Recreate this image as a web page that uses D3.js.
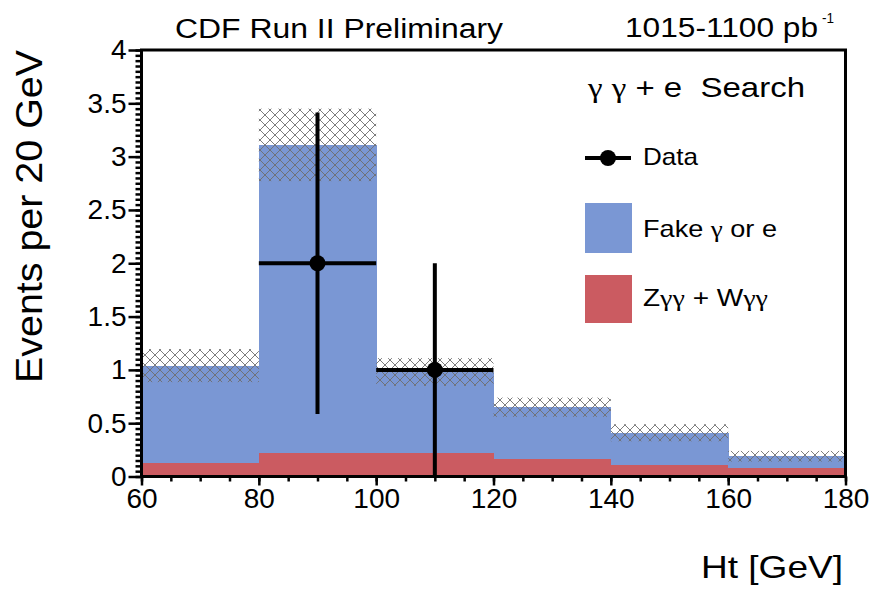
<!DOCTYPE html>
<html>
<head>
<meta charset="utf-8">
<script src="https://cdn.jsdelivr.net/npm/d3@7"></script>
<style>
  html, body { margin: 0; padding: 0; background: #fff; }
  svg { display: block; }
  text { font-family: "Liberation Sans", Arial, sans-serif; fill: #000; }
  tspan.g { font-family: "Liberation Serif", "DejaVu Serif", serif; }
</style>
</head>
<body>
<svg id="chart" width="877" height="595"></svg>
<script>
// ---------- data ----------
const binEdges = [60, 80, 100, 120, 140, 160, 180];
const zggWgg   = [0.125, 0.22, 0.22, 0.16, 0.11, 0.08];      // red component
const fakeGamE = [0.915, 2.89, 0.76, 0.49, 0.30, 0.11];      // blue component (stacked on red)
const totalErr = [0.155, 0.34, 0.13, 0.09, 0.08, 0.05];      // hatched uncertainty on total
const dataX    = [90, 110];
const dataY    = [2, 1];
const dataErrLo = [1.414, 1];
const dataErrHi = [1.414, 1];
const dataXErr = [10, 10];
const yMajorTicks = [0, 0.5, 1, 1.5, 2, 2.5, 3, 3.5, 4];
const yTickLabels = ["0", "0.5", "1", "1.5", "2", "2.5", "3", "3.5", "4"];
const xMajorTicks = [60, 80, 100, 120, 140, 160, 180];
const xTickLabels = ["60", "80", "100", "120", "140", "160", "180"];

// ---------- setup ----------
const svg = d3.select("#chart");
const blue = "#7a97d4", red = "#cb5b61";
const x = d3.scaleLinear().domain([60, 180]).range([141.5, 845.5]);
const y = d3.scaleLinear().domain([0, 4]).range([476.5, 50]);

const defs = svg.append("defs");
const pat = defs.append("pattern").attr("id", "hatch")
  .attr("patternUnits", "userSpaceOnUse").attr("width", 10).attr("height", 10);
pat.append("path").attr("d", "M-1,-1 L11,11 M11,-1 L-1,11")
  .attr("stroke", "#6e6e6e").attr("stroke-width", 0.9).attr("fill", "none");

const bins = zggWgg.map((r, i) => ({
  x0: binEdges[i], x1: binEdges[i + 1], red: r, fake: fakeGamE[i],
  total: r + fakeGamE[i], err: totalErr[i]
}));

// red
svg.append("g").attr("shape-rendering", "crispEdges").selectAll("rect").data(bins).join("rect")
  .attr("x", d => x(d.x0)).attr("width", d => x(d.x1) - x(d.x0) + 0.5)
  .attr("y", d => y(d.red)).attr("height", d => y(0) - y(d.red))
  .attr("fill", red);
// blue
svg.append("g").attr("shape-rendering", "crispEdges").selectAll("rect").data(bins).join("rect")
  .attr("x", d => x(d.x0)).attr("width", d => x(d.x1) - x(d.x0) + 0.5)
  .attr("y", d => y(d.total)).attr("height", d => y(d.red) - y(d.total))
  .attr("fill", blue);
// hatch
svg.append("g").selectAll("rect").data(bins).join("rect")
  .attr("x", d => x(d.x0)).attr("width", d => x(d.x1) - x(d.x0))
  .attr("y", d => y(d.total + d.err)).attr("height", d => y(d.total - d.err) - y(d.total + d.err))
  .attr("fill", "url(#hatch)");

// data points
const pts = dataX.map((v, i) => ({ x: v, y: dataY[i], lo: dataErrLo[i], hi: dataErrHi[i], xe: dataXErr[i] }));
const gd = svg.append("g");
gd.selectAll("line.v").data(pts).join("line").attr("class", "v")
  .attr("x1", d => x(d.x)).attr("x2", d => x(d.x))
  .attr("y1", d => y(d.y - d.lo)).attr("y2", d => y(d.y + d.hi))
  .attr("stroke", "#000").attr("stroke-width", 4);
gd.selectAll("line.h").data(pts).join("line").attr("class", "h")
  .attr("x1", d => x(d.x - d.xe)).attr("x2", d => x(d.x + d.xe))
  .attr("y1", d => y(d.y)).attr("y2", d => y(d.y))
  .attr("stroke", "#000").attr("stroke-width", 4);
gd.selectAll("circle").data(pts).join("circle")
  .attr("cx", d => x(d.x)).attr("cy", d => y(d.y)).attr("r", 8).attr("fill", "#000");

// ---------- axes ----------
const yMinor = d3.range(0, 81).map(i => i * 0.05);
const xMinor = d3.range(0, 25).map(i => 60 + i * 5);

const gyMinor = svg.append("g").attr("transform", `translate(${x(60)},0)`)
  .call(d3.axisLeft(y).tickValues(yMinor).tickSize(6).tickFormat(""));
const gy = svg.append("g").attr("transform", `translate(${x(60)},0)`)
  .call(d3.axisLeft(y).tickValues(yMajorTicks).tickSize(13).tickPadding(2)
    .tickFormat((d, i) => yTickLabels[i]));
const gxMinor = svg.append("g").attr("transform", `translate(0,${y(0)})`)
  .call(d3.axisBottom(x).tickValues(xMinor).tickSize(5).tickFormat(""));
const gx = svg.append("g").attr("transform", `translate(0,${y(0)})`)
  .call(d3.axisBottom(x).tickValues(xMajorTicks).tickSize(9).tickPadding(3)
    .tickFormat((d, i) => xTickLabels[i]));

[gyMinor, gy, gxMinor, gx].forEach(g => {
  g.select(".domain").remove();
  g.selectAll(".tick line").attr("stroke", "#000").attr("stroke-width", 2.5);
  g.selectAll(".tick text").style("font-size", "28px").attr("fill", "#000")
    .style("font-family", "'Liberation Sans', Arial, sans-serif");
});

// frame
svg.append("rect").attr("x", x(60)).attr("y", y(4))
  .attr("width", x(180) - x(60)).attr("height", y(0) - y(4))
  .attr("fill", "none").attr("stroke", "#000").attr("stroke-width", 3);

// ---------- texts ----------
svg.append("text").attr("x", 175).attr("y", 38).style("font-size", "27px")
  .attr("textLength", 328).attr("lengthAdjust", "spacingAndGlyphs")
  .text("CDF Run II Preliminary");
svg.append("text").attr("x", 625).attr("y", 37).style("font-size", "27px")
  .attr("textLength", 193).attr("lengthAdjust", "spacingAndGlyphs")
  .text("1015-1100 pb");
svg.append("text").attr("x", 822).attr("y", 23).style("font-size", "15px")
  .attr("textLength", 12).attr("lengthAdjust", "spacingAndGlyphs")
  .text("-1");

svg.append("text").attr("x", 701).attr("y", 578).style("font-size", "32px")
  .attr("textLength", 142).attr("lengthAdjust", "spacingAndGlyphs")
  .text("Ht [GeV]");
svg.append("text").attr("transform", "translate(42,383) rotate(-90)")
  .style("font-size", "37px")
  .attr("textLength", 333).attr("lengthAdjust", "spacingAndGlyphs")
  .text("Events per 20 GeV");

// legend (gamma glyphs in a serif face, like the symbol font of the original)
function richText(xp, yp, size, len, parts) {
  const t = svg.append("text").attr("x", xp).attr("y", yp).style("font-size", size + "px")
    .attr("textLength", len).attr("lengthAdjust", "spacingAndGlyphs")
    .style("white-space", "pre");
  parts.forEach(p => t.append("tspan").attr("class", p[1] ? "g" : null).text(p[0]));
  return t;
}
richText(588, 97, 28, 217, [["\u03B3", 1], [" ", 0], ["\u03B3", 1], [" + e  Search", 0]]);
svg.append("line").attr("x1", 585).attr("x2", 631).attr("y1", 158).attr("y2", 158)
  .attr("stroke", "#000").attr("stroke-width", 4);
svg.append("circle").attr("cx", 608).attr("cy", 158).attr("r", 8).attr("fill", "#000");
svg.append("text").attr("x", 643).attr("y", 165).style("font-size", "24px")
  .attr("textLength", 55).attr("lengthAdjust", "spacingAndGlyphs").text("Data");
svg.append("rect").attr("x", 585).attr("y", 203).attr("width", 47).attr("height", 50).attr("fill", blue);
richText(643, 237, 24, 134, [["Fake ", 0], ["\u03B3", 1], [" or e", 0]]);
svg.append("rect").attr("x", 585).attr("y", 275).attr("width", 47).attr("height", 48).attr("fill", red);
richText(643, 306, 24, 125, [["Z", 0], ["\u03B3\u03B3", 1], [" + W", 0], ["\u03B3\u03B3", 1]]);
</script>
</body>
</html>
